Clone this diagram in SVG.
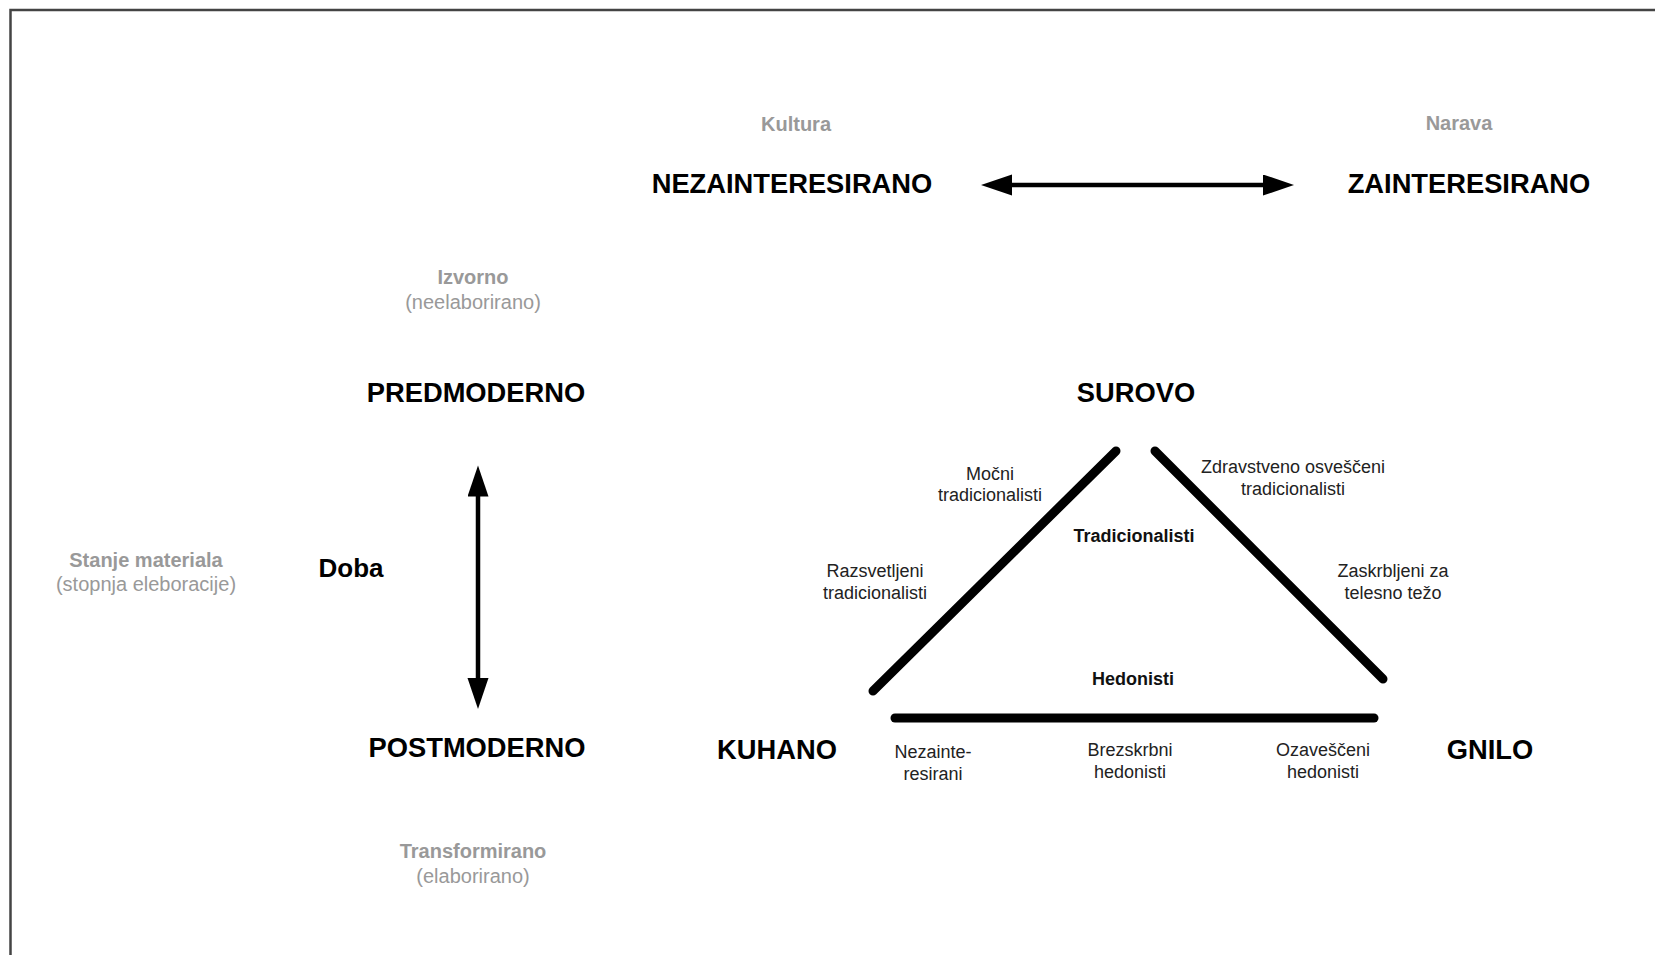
<svg xmlns="http://www.w3.org/2000/svg" width="1655" height="955" viewBox="0 0 1655 955">
  <style>
    text { font-family: "Liberation Sans", Arial, sans-serif; text-anchor: middle; }
    .big { font-size: 27.3px; font-weight: bold; fill: #000; }
    .doba { font-size: 26px; font-weight: bold; fill: #000; }
    .gh { font-size: 20px; font-weight: bold; fill: #999; }
    .gr { font-size: 20px; fill: #999; }
    .sm { font-size: 18px; fill: #222; }
    .smb { font-size: 18px; font-weight: bold; fill: #111; }
    .arrow { stroke: #000; stroke-width: 4.5; fill: none; marker-start: url(#head); marker-end: url(#head); }
    .tri { stroke: #000; stroke-width: 9; stroke-linecap: round; fill: none; }
  </style>
  <defs>
    <marker id="head" markerUnits="userSpaceOnUse" markerWidth="32" markerHeight="22" refX="21" refY="10.5" orient="auto-start-reverse" viewBox="0 0 32 22">
      <path d="M0,0 L31,10.5 L0,21 z" fill="#000"/>
    </marker>
  </defs>
  <rect width="1655" height="955" fill="#fff"/>
  <path d="M10.5,955 L10.5,10 L1655,10" fill="none" stroke="#444" stroke-width="2.5"/>

  <g id="kultura"><text class="gh" x="796" y="131">Kultura</text></g>
  <g id="narava"><text class="gh" x="1459" y="130">Narava</text></g>
  <g id="nezainteresirano"><text class="big" x="792" y="193">NEZAINTERESIRANO</text></g>
  <g id="zainteresirano"><text class="big" x="1469" y="193">ZAINTERESIRANO</text></g>

  <g id="izvorno">
    <text class="gh" x="473" y="284">Izvorno</text>
    <text class="gr" x="473" y="309">(neelaborirano)</text>
  </g>
  <g id="predmoderno"><text class="big" x="476" y="402">PREDMODERNO</text></g>
  <g id="stanje">
    <text class="gh" x="146" y="567">Stanje materiala</text>
    <text class="gr" x="146" y="591">(stopnja eleboracije)</text>
  </g>
  <g id="doba"><text class="doba" x="351" y="577">Doba</text></g>
  <g id="postmoderno"><text class="big" x="477" y="757">POSTMODERNO</text></g>
  <g id="transformirano">
    <text class="gh" x="473" y="858">Transformirano</text>
    <text class="gr" x="473" y="883">(elaborirano)</text>
  </g>

  <g id="surovo"><text class="big" x="1136" y="402">SUROVO</text></g>
  <g id="kuhano"><text class="big" x="777" y="759">KUHANO</text></g>
  <g id="gnilo"><text class="big" x="1490" y="759">GNILO</text></g>

  <g id="mocni">
    <text class="sm" x="990" y="480">Močni</text>
    <text class="sm" x="990" y="501">tradicionalisti</text>
  </g>
  <g id="zdravstveno">
    <text class="sm" x="1293" y="473">Zdravstveno osveščeni</text>
    <text class="sm" x="1293" y="495">tradicionalisti</text>
  </g>
  <g id="tradicionalisti"><text class="smb" x="1134" y="542">Tradicionalisti</text></g>
  <g id="razsvetljeni">
    <text class="sm" x="875" y="577">Razsvetljeni</text>
    <text class="sm" x="875" y="599">tradicionalisti</text>
  </g>
  <g id="zaskrbljeni">
    <text class="sm" x="1393" y="577">Zaskrbljeni za</text>
    <text class="sm" x="1393" y="599">telesno težo</text>
  </g>
  <g id="hedonisti"><text class="smb" x="1133" y="685">Hedonisti</text></g>
  <g id="nezainteresirani">
    <text class="sm" x="933" y="758">Nezainte-</text>
    <text class="sm" x="933" y="780">resirani</text>
  </g>
  <g id="brezskrbni">
    <text class="sm" x="1130" y="756">Brezskrbni</text>
    <text class="sm" x="1130" y="778">hedonisti</text>
  </g>
  <g id="ozavesceni">
    <text class="sm" x="1323" y="756">Ozaveščeni</text>
    <text class="sm" x="1323" y="778">hedonisti</text>
  </g>

  <g id="connectors">
    <line class="arrow" x1="991" y1="185" x2="1284" y2="185"/>
    <line class="arrow" x1="478" y1="475.5" x2="478" y2="699"/>
    <line class="tri" x1="873" y1="691" x2="1116" y2="451"/>
    <line class="tri" x1="1155" y1="451" x2="1383" y2="679"/>
    <line class="tri" x1="895" y1="718" x2="1374" y2="718"/>
  </g>
</svg>
